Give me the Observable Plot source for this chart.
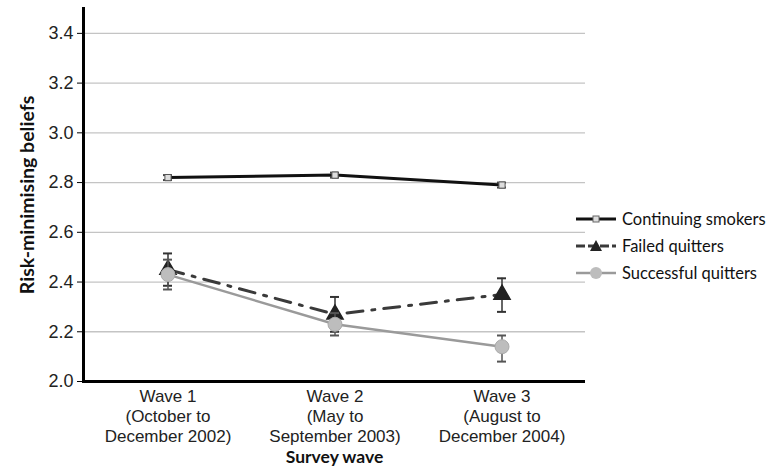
<!DOCTYPE html>
<html>
<head>
<meta charset="utf-8">
<script src="https://cdn.jsdelivr.net/npm/d3@7"></script>
<script src="https://cdn.jsdelivr.net/npm/@observablehq/plot@0.6"></script>
<style>
  html, body { margin: 0; padding: 0; background: #fff; }
  #wrap { position: relative; width: 773px; height: 472px; overflow: hidden; }
  #legend { position: absolute; left: 575px; top: 205px; font-family: Lato, "Open Sans", sans-serif; font-size: 16.5px; color: #111; }
  .item { display: flex; align-items: center; height: 27px; white-space: nowrap; }
  .item svg { margin-right: 3px; }
</style>
</head>
<body>
<div id="wrap"></div>
<script>
const waves = ["Wave 1", "Wave 2", "Wave 3"];
const waveLabels = ["Wave 1\n(October to\nDecember 2002)", "Wave 2\n(May to\nSeptember 2003)", "Wave 3\n(August to\nDecember 2004)"];
const seriesNames = ["Continuing smokers", "Failed quitters", "Successful quitters"];
const continuing = [2.82, 2.83, 2.79];
const continuingLo = [2.81, 2.82, 2.78];
const continuingHi = [2.83, 2.84, 2.80];
const failed = [2.45, 2.27, 2.35];
const failedLo = [2.385, 2.20, 2.28];
const failedHi = [2.515, 2.34, 2.415];
const successful = [2.43, 2.23, 2.14];
const successfulLo = [2.37, 2.185, 2.08];
const successfulHi = [2.49, 2.275, 2.185];
const yTicks = [2.0, 2.2, 2.4, 2.6, 2.8, 3.0, 3.2, 3.4];
const yLabel = "Risk-minimising beliefs";
const xLabel = "Survey wave";

function rowsFor(name, v, lo, hi) {
  return waves.map((w, i) => ({series: name, wave: w, value: v[i], lo: lo[i], hi: hi[i]}));
}
const cRows = rowsFor(seriesNames[0], continuing, continuingLo, continuingHi);
const fRows = rowsFor(seriesNames[1], failed, failedLo, failedHi);
const sRows = rowsFor(seriesNames[2], successful, successfulLo, successfulHi);

const capInset = 79;
function errorBars(rows, color, w) {
  return [
    Plot.ruleX(rows, {x: "wave", y1: "lo", y2: "hi", stroke: color, strokeWidth: w}),
    Plot.tickY(rows, {x: "wave", y: "lo", stroke: color, strokeWidth: 2, insetLeft: capInset, insetRight: capInset}),
    Plot.tickY(rows, {x: "wave", y: "hi", stroke: color, strokeWidth: 2, insetLeft: capInset, insetRight: capInset})
  ];
}

const chart = Plot.plot({
  width: 590,
  height: 472,
  marginLeft: 83,
  marginRight: 5,
  marginTop: 8,
  marginBottom: 91,
  style: {fontFamily: "'Liberation Sans', Arial, sans-serif", background: "#fff"},
  x: {type: "band", domain: waves, padding: 0},
  y: {domain: [2.0, 3.5]},
  marks: [
    Plot.gridY(yTicks.slice(1), {stroke: "#c4c4c4", strokeOpacity: 1, strokeWidth: 1.3}),
    Plot.axisY(yTicks, {tickFormat: d3.format(".1f"), tickSize: 6, tickPadding: 4, fontSize: 18, label: null, stroke: "#000", color: "#222"}),
    Plot.axisX({tickFormat: (d, i) => waveLabels[i], tickSize: 0, tickPadding: 6, fontSize: 17, lineHeight: 1.18, label: null, color: "#222"}),
    Plot.text([yLabel], {frameAnchor: "left", textAnchor: "middle", rotate: -90, dx: -56, fontSize: 19.5, fontWeight: "bold", fontFamily: "Lato, 'Open Sans', sans-serif", fill: "#111"}),
    Plot.text([xLabel], {frameAnchor: "bottom", lineAnchor: "middle", dy: 76, fontSize: 17.5, fontWeight: "bold", fontFamily: "Lato, 'Open Sans', sans-serif", fill: "#111"}),
    Plot.ruleY([2.0], {stroke: "#000", strokeWidth: 3}),
    Plot.frame({anchor: "left", stroke: "#000", strokeWidth: 3}),
    ...errorBars(cRows, "#444", 1.5),
    Plot.line(cRows, {x: "wave", y: "value", stroke: "#111", strokeWidth: 3}),
    Plot.dot(cRows, {x: "wave", y: "value", symbol: "square", r: 3.5, fill: "#ddd", stroke: "#555", strokeWidth: 1}),
    ...errorBars(fRows, "#333", 1.5),
    Plot.line(fRows, {x: "wave", y: "value", stroke: "#3a3a3a", strokeWidth: 3, strokeDasharray: "16,9,3,9"}),
    Plot.dot(fRows, {x: "wave", y: "value", symbol: "triangle", r: 6, fill: "#222", stroke: "#222"}),
    ...errorBars(sRows, "#555", 1.5),
    Plot.line(sRows, {x: "wave", y: "value", stroke: "#9a9a9a", strokeWidth: 2.5}),
    Plot.dot(sRows, {x: "wave", y: "value", symbol: "circle", r: 7, fill: "#bdbdbd", stroke: "#aaa", strokeWidth: 1})
  ]
});
document.getElementById("wrap").appendChild(chart);

// Legend
const legendStyles = [
  {color: "#111", width: 3, dash: null, marker: "square", mfill: "#ddd"},
  {color: "#3a3a3a", width: 3, dash: "9,3", marker: "triangle", mfill: "#222"},
  {color: "#9a9a9a", width: 2.5, dash: null, marker: "circle", mfill: "#bdbdbd"}
];
const legend = document.createElement("div");
legend.id = "legend";
seriesNames.forEach((name, i) => {
  const s = legendStyles[i];
  const item = document.createElement("div");
  item.className = "item";
  let mk = "";
  if (s.marker === "square") mk = `<rect x="18" y="5" width="6" height="6" fill="${s.mfill}" stroke="#666"/>`;
  if (s.marker === "triangle") mk = `<path d="M21,2 L27,13 L15,13 Z" fill="${s.mfill}"/>`;
  if (s.marker === "circle") mk = `<circle cx="21" cy="8" r="6" fill="${s.mfill}"/>`;
  item.innerHTML = `<svg width="44" height="16"><line x1="1" x2="41" y1="8" y2="8" stroke="${s.color}" stroke-width="${s.width}" ${s.dash ? `stroke-dasharray="${s.dash}"` : ""}/>${mk}</svg><span>${name}</span>`;
  legend.appendChild(item);
});
document.getElementById("wrap").appendChild(legend);
</script>
</body>
</html>
